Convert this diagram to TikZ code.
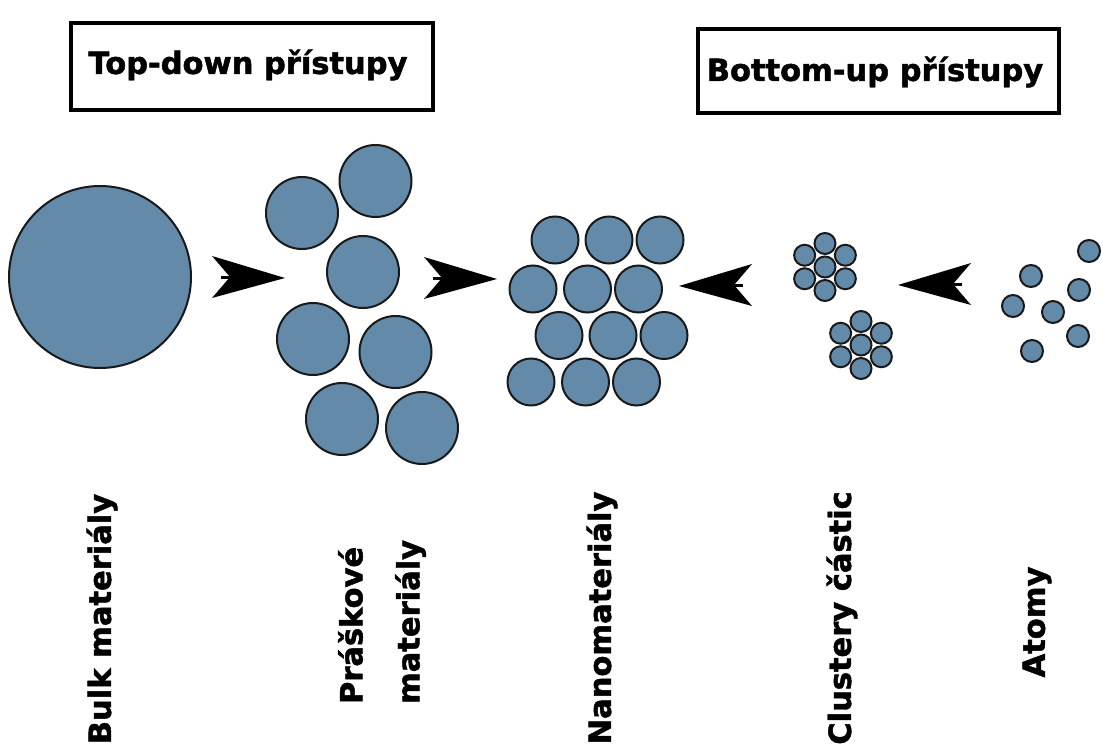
\documentclass[tikz,border=0pt]{standalone}
\usepackage{fontspec}
\setmainfont{DejaVu Sans}
\newfontfamily\heavyfont{DejaVu Sans Bold}[FakeBold=1.6]
\usetikzlibrary{calc}
\definecolor{ballblue}{RGB}{99,138,168}
\definecolor{rim}{RGB}{25,25,25}
\begin{document}
\begin{tikzpicture}[x=1pt,y=-1pt,
  ball/.style={circle, draw=rim, line width=2pt, fill=ballblue, inner sep=0pt, minimum size=#1},
  titlebox/.style={draw=black, line width=3.8pt, inner sep=0pt},
  titletext/.style={font=\heavyfont\fontsize{30.5}{40}\selectfont, inner sep=0pt},
  lbl/.style={font=\heavyfont\fontsize{30.5}{57}\selectfont, rotate=90, inner sep=0pt, align=left},
  arrowR/.pic={
    \fill[black] (0,0) -- (-73,-22) -- (-55,-1) -- (-73,20) -- cycle;
    \draw[black, line width=3pt] (-64,-1) -- (-55,-1);
  }]
\useasboundingbox (0,0) rectangle (1103,746);

% title boxes
\draw[titlebox] (71,23) rectangle (433,110);
\node[titletext] (td) at (248,65) {Top-down přístupy};
\draw[titlebox] (698,29) rectangle (1059,113);
\node[titletext] (bu) at (875,72) {Bottom-up přístupy};

% bulk
\node[ball=182pt] (bulk) at (100,277) {};

% powder
\node[ball=72pt] (p1) at (302,213) {};
\node[ball=72pt] (p2) at (375.5,181) {};
\node[ball=72pt] (p3) at (363,272) {};
\node[ball=72pt] (p4) at (313,339) {};
\node[ball=72pt] (p5) at (395.5,352) {};
\node[ball=72pt] (p6) at (342,419) {};
\node[ball=72pt] (p7) at (422,428) {};

% nano
\foreach \x/\y [count=\i] in {555/240,609/240,660/240,
                               533/289,587.5/289,638.5/289,
                               559/335.5,613/335.5,664/335.5,
                               531/382,585.5/382,636.5/382}
  \node[ball=47pt] (n\i) at (\x,\y) {};

% clusters
\node[ball=21pt] (ca0) at (825,267) {};
\foreach \a [count=\i] in {90,30,-30,-90,-150,150}
  \node[ball=21pt] (ca\i) at ($(ca0)+(\a:23.5pt)$) {};
\node[ball=21pt] (cb0) at (861,345) {};
\foreach \a [count=\i] in {90,30,-30,-90,-150,150}
  \node[ball=21pt] (cb\i) at ($(cb0)+(\a:23.5pt)$) {};

% atoms
\foreach \x/\y [count=\i] in {1089/251,1031/276,1079/290,1013/306,1053/312,1078/336,1032/351}
  \node[ball=22pt] (a\i) at (\x,\y) {};

% arrowheads
\pic at (285,278) {arrowR};
\pic at (497,279) {arrowR};
\pic[xscale=-1] at (679,286) {arrowR};
\pic[xscale=-1] at (898,285) {arrowR};

% labels
\node[lbl] (l1) at (102,619) {Bulk materiály};
\node[lbl] (l2) at (382,622) {Práškové\\materiály};
\node[lbl] (l3) at (602,618) {Nanomateriály};
\node[lbl] (l4) at (842,618) {Clustery částic};
\node[lbl] (l5) at (1037,622) {Atomy};
\end{tikzpicture}
\end{document}
